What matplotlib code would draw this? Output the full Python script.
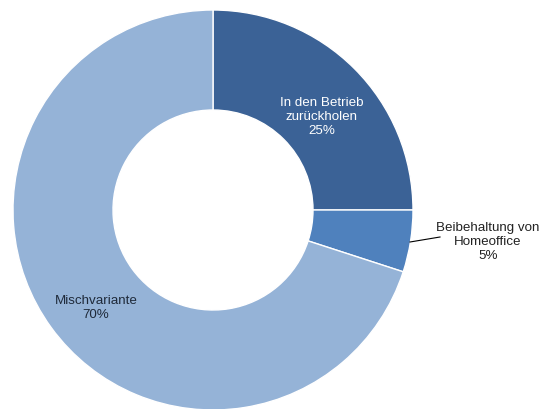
import matplotlib.pyplot as plt

# data
labels = ["In den Betrieb\nzurückholen", "Beibehaltung von\nHomeoffice", "Mischvariante"]
values = [25, 5, 70]
colors = ["#3b6296", "#4f81bd", "#95b3d7"]

plt.rcParams['font.family'] = ['Liberation Sans', 'DejaVu Sans']

fig = plt.figure(figsize=(5.41, 4.10), dpi=100)
# circle centre ~ (213, 211) px, radius ~200 px
ax = fig.add_axes([13 / 541, -1 / 410, 400 / 541, 400 / 410])
wedges, _ = ax.pie(values, colors=colors, startangle=90, counterclock=False,
                   radius=1, wedgeprops=dict(width=0.5, edgecolor='white', linewidth=1))
ax.set_xlim(-1, 1)
ax.set_ylim(-1, 1)
ax.set_aspect('equal')
ax.axis('off')


def to_data(px, py):
    return (px - 213) / 200, (211 - py) / 200


texts = [f"{l}\n{v}%" for l, v in zip(labels, values)]
pos = [(322, 117), (488, 242), (96, 308)]
tcol = ["white", "#222222", "#1f2a3a"]
for t, p, c in zip(texts, pos, tcol):
    x, y = to_data(*p)
    ax.text(x, y, t, ha='center', va='center', fontsize=9.6, color=c,
            linespacing=1.2, clip_on=False)

# leader line for the small slice
x0, y0 = to_data(410, 243)
x1, y1 = to_data(440, 238)
ax.plot([x0, x1], [y0, y1], color='black', lw=0.8, clip_on=False)

fig.savefig("out.png", dpi=100)
